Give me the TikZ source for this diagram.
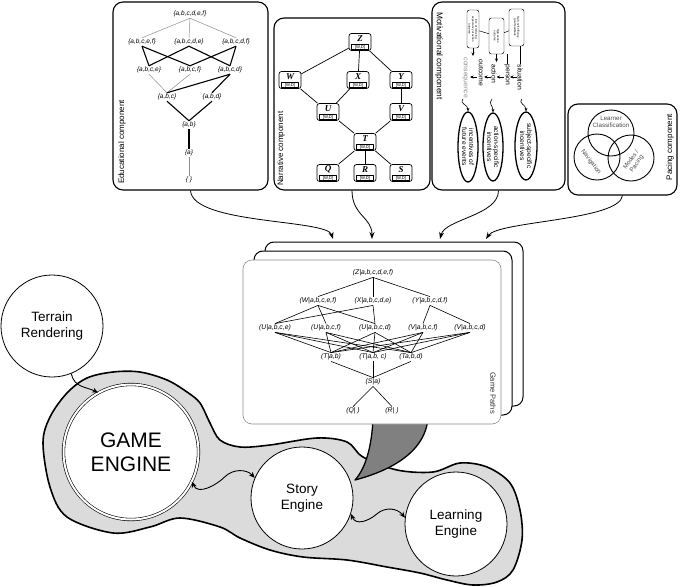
\documentclass[tikz,border=0pt]{standalone}
\usepackage{fontspec}
\setmainfont{Liberation Sans}
\newfontfamily\tnr{Liberation Serif}
\usetikzlibrary{arrows.meta,shapes.geometric}
\definecolor{blobgray}{gray}{0.86}
\definecolor{callgray}{gray}{0.5}
\newcommand\nnode[4]{%
 \node[nbox] (#1) at (#2,#3) {};
 \node[nlet] (#1l) at ([yshift=-5.4pt]#1.north) {#4};
 \node[nwd] (#1w) at ([yshift=3.9pt]#1.south) {[W,D]};}
\begin{document}
\begin{tikzpicture}[x=1pt,y=-1pt,line join=round,
 comp/.style={draw,line width=1.1pt,rounded corners=10pt,inner sep=0pt},
 clab/.style={font=\fontsize{8}{9}\selectfont,inner sep=0pt},
 el/.style={font=\fontsize{6.5}{7}\selectfont\itshape,inner sep=1pt},
 gline/.style={draw=black!45,line width=0.5pt},
 bline/.style={line width=1.1pt},
 nbox/.style={draw,rounded corners=2.5pt,minimum width=22pt,minimum height=17pt,inner sep=0pt,line width=0.7pt,fill=white},
 nlet/.style={font=\tnr\bfseries\itshape\fontsize{9}{9}\selectfont,inner sep=0pt},
 nwd/.style={draw,line width=0.35pt,font=\fontsize{4.2}{4.5}\selectfont,inner sep=0.4pt,minimum width=17pt},
 nline/.style={line width=0.7pt},
 mbox/.style={draw,rounded corners=2.5pt,rotate=-90,align=center,font=\fontsize{2.8}{3.3}\selectfont,inner sep=0.8pt,line width=0.45pt},
 wf/.style={rotate=-90,anchor=west,font=\fontsize{6.8}{7}\selectfont,inner sep=0.5pt},
 mell/.style={draw,ellipse,line width=1.3pt,inner sep=0pt},
 mtext/.style={rotate=-90,align=center,font=\fontsize{6.6}{7}\selectfont,inner sep=0pt},
 marr/.style={line width=0.6pt,-{Stealth[length=3.5pt,width=3pt]}},
 pc/.style={draw,circle,minimum size=46pt,inner sep=0pt,line width=0.9pt},
 ptext/.style={font=\fontsize{6.2}{7}\selectfont,text=black!70,align=center,inner sep=0pt},
 carr/.style={line width=0.8pt,-{Stealth[length=7pt,width=5pt]}},
 card/.style={draw,rounded corners=9pt,fill=white,minimum width=258pt,minimum height=164pt,line width=1pt},
 gp/.style={font=\fontsize{6.8}{7}\selectfont\itshape,inner sep=1pt},
 gpl/.style={line width=0.6pt},
 eng/.style={circle,draw,fill=white,line width=0.8pt,minimum size=102pt,align=center,font=\fontsize{13.5}{16}\selectfont},
 sq/.style={line width=0.9pt,-{Stealth[length=6pt,width=5pt]}},
 dsq/.style={line width=0.9pt,{Stealth[length=6pt,width=5pt]}-{Stealth[length=6pt,width=5pt]}}
]
\useasboundingbox (0,0) rectangle (681,587);

% ---------------- bottom: blob, callout, engines
\draw[line width=1.6pt,fill=blobgray] plot[smooth cycle,tension=0.55] coordinates {
 (113,372) (140,372) (167,380) (187,392) (200,403) (210,423) (220,440) (240,447)
 (270,445) (317,438) (347,442) (363,457) (397,470) (433,472) (460,463) (487,467)
 (510,483) (520,510) (522,540) (513,570) (497,582) (473,585) (447,580) (420,573)
 (387,567) (347,560) (303,557) (270,550) (240,538) (220,527) (180,518) (150,527)
 (113,533) (67,517) (50,487) (43,443) (50,417) (67,393) (87,378)};
\draw[line width=1.3pt,fill=callgray] (373,418) .. controls (372,445) and (366,468) .. (355,480)
 .. controls (385,472) and (425,455) .. (428,418) -- cycle;

\node[eng] (terrain) at (52,326) {Terrain\\Rendering};
\node[circle,draw,double,double distance=2pt,line width=0.6pt,fill=white,minimum size=135pt,
 align=center,font=\fontsize{21}{24}\selectfont] (game) at (131,452) {GAME\\ENGINE};
\node[eng] (story) at (302,498) {Story\\Engine};
\node[eng,ellipse,minimum width=102pt,minimum height=104pt] (learn) at (456,524) {Learning\\Engine};

\draw[sq] (terrain.-68) .. controls +(3,14) and +(-12,-6) .. (game.119);
\draw[dsq] (game.-26) .. controls +(6,14) and +(-8,8) .. ++(33,-5)
 .. controls +(8,-8) and +(-8,-9) .. (story.157);
\draw[dsq] (story.-18) .. controls +(5,12) and +(-8,7) .. ++(26,0)
 .. controls +(8,-7) and +(-8,-10) .. (learn.173);

% ---------------- card stack
\node[card] (card3) at (394,324) {};
\node[card] (card2) at (383,333) {};
\node[card,draw=black!45,line width=0.6pt] (card1) at (372,342) {};
\node[font=\fontsize{7.5}{8}\selectfont,text=black!80,rotate=-90,inner sep=0pt] (gplab) at (493,393) {Game Paths};

\node[gp] (gZ) at (373,273) {(Z|a,b,c,d,e,f)};
\node[gp] (gW) at (318,301) {(W|a,b,c,e,f)};
\node[gp] (gX) at (373,301) {(X|a,b,c,d,e)};
\node[gp] (gY) at (430,301) {(Y|a,b,c,d,f)};
\node[gp] (gU1) at (275,328) {(U|a,b,c,e)};
\node[gp] (gU2) at (326,328) {(U|a,b,c,f)};
\node[gp] (gU3) at (375,328) {(U|a,b,c,d)};
\node[gp] (gV1) at (423,328) {(V|a,b,c,f)};
\node[gp] (gV2) at (470,328) {(V|a,b,c,d)};
\node[gp] (gT1) at (331,357) {(T|a,b)};
\node[gp] (gT2) at (373,357) {(T|a,b, c)};
\node[gp] (gT3) at (411,357) {(Ta,b,d)};
\node[gp] (gS) at (373,382) {(S|a)};
\node[gp] (gQ) at (353,411) {(Q| )};
\node[gp] (gR) at (392,411) {(R| )};
\foreach \t in {gW,gX,gY} \draw[gpl] (gZ.south) -- (\t.north);
\draw[gpl] (gW.south) -- (gU1.north);
\draw[gpl] (gW.south) -- (gU2.north);
\draw[gpl] (gW.south) -- (gU3.north);
\draw[gpl] (gX.south) -- (gU1.north);
\draw[gpl] (gX.south) -- (gU3.north);
\draw[gpl] (gY.south) -- (gV1.north);
\draw[gpl] (gY.south) -- (gV2.north);
\foreach \u in {gU1,gU2,gU3,gV1,gV2}
 \foreach \t in {gT1,gT2,gT3} \draw[gpl] (\u.south) -- (\t.north);
\foreach \t in {gT1,gT2,gT3} \draw[gpl] (\t.south) -- (gS.north);
\draw[gpl] (gS.south) -- (gQ.north);
\draw[gpl] (gS.south) -- (gR.north);

% ---------------- component boxes
\node[comp,minimum width=155pt,minimum height=188pt] (edu) at (190.5,96) {};
\node[comp,minimum width=156pt,minimum height=172pt] (narr) at (352,104) {};
\node[comp,minimum width=133pt,minimum height=188pt] (mot) at (498.5,96) {};
\node[comp,minimum width=109pt,minimum height=91pt] (pace) at (622.5,149.5) {};

\coordinate (c1) at (333,239);
\coordinate (c2) at (372,239);
\coordinate (c3) at (440,239);
\coordinate (c4) at (486,239);
\draw[carr] (edu.south) .. controls +(2,34) and +(-6,-20) .. (c1);
\draw[carr] (narr.south) .. controls +(0,25) and +(0,-22) .. (c2);
\draw[carr] (mot.south) .. controls +(0,25) and +(5,-20) .. (c3);
\draw[carr] (pace.south) .. controls +(-3,25) and +(12,-18) .. (c4);

% ---------------- educational component
\node[clab,rotate=90,anchor=west] (elab) at (122,184) {Educational component};
\node[el] (e0) at (190,14) {\{a,b,c,d,e,f\}};
\node[el] (e1) at (142,42) {\{a,b,c,e,f\}};
\node[el] (e2) at (189,42) {\{a,b,c,d,e\}};
\node[el] (e3) at (236,42) {\{a,b,c,d,f\}};
\node[el] (e4) at (149,70) {\{a,b,c,e\}};
\node[el] (e5) at (190,70) {\{a,b,c,f\}};
\node[el] (e6) at (230,70) {\{a,b,c,d\}};
\node[el] (e7) at (167,97) {\{a,b,c\}};
\node[el] (e8) at (212,97) {\{a,b,d\}};
\node[el] (e9) at (189,125) {\{a,b\}};
\node[el] (e10) at (189,153) {\{a\}};
\node[el] (e11) at (189,180) {\{ \}};
\foreach \t in {e1,e2,e3} \draw[gline] (e0.south) -- (\t.north);
\draw[bline] (e1.south) -- (e4.north);
\draw[bline] (e1.south) -- (e5.north);
\draw[bline] (e2.south) -- (e4.north);
\draw[bline] (e2.south) -- (e6.north);
\draw[bline] (e3.south) -- (e5.north);
\draw[bline] (e3.south) -- (e6.north);
\draw[gline] (e4.south) -- (e7.north);
\draw[gline] (e5.south) -- (e7.north);
\draw[bline] (e6.south) -- (e7.north);
\draw[bline] (e6.south) -- (e8.north);
\draw[bline] (e7.south) -- (e9.north);
\draw[bline] (e8.south) -- (e9.north);
\draw[bline] (e9.south) -- (e10.north);
\draw[gline] (e10.south) -- (e11.north);

% ---------------- narrative component
\node[clab,rotate=90,anchor=west] (nlab) at (281,186) {Narrative component};
\nnode{nZ}{360}{42}{Z}
\nnode{nW}{290}{80}{W}
\nnode{nX}{358}{80}{X}
\nnode{nY}{401}{80}{Y}
\nnode{nU}{328}{112}{U}
\nnode{nV}{401}{112}{V}
\nnode{nT}{365}{142}{T}
\nnode{nQ}{328}{173}{Q}
\nnode{nR}{365}{173}{R}
\nnode{nS}{401}{173}{S}
\foreach \a/\b in {nZ/nW,nZ/nX,nZ/nY,nW/nU,nX/nU,nY/nV,nU/nT,nV/nT,nT/nQ,nT/nR,nT/nS}
 \draw[nline] (\a) -- (\b);

% ---------------- motivational component
\node[clab,rotate=-90,anchor=west,font=\fontsize{8.3}{9}\selectfont] (mlab) at (439,12) {Motivational component};
\node[mbox,minimum width=38pt,minimum height=12pt] (mb1) at (473,29) {low: at reducing\\expectancy of action\\outcome};
\node[mbox,minimum width=36pt,minimum height=15pt] (mb2) at (496.5,36) {high action\\outcome};
\node[mbox,minimum width=37pt,minimum height=15pt] (mb3) at (516.5,27.5) {high: self-efficacy,\\goal feedback};
\draw[line width=0.5pt] (mb1) -- (mb2);
\draw[line width=0.5pt] (mb2) -- (mb3);
\node[wf,text=black!45] (w1) at (465,57) {consequence};
\node[wf] (w2) at (481,59) {outcome};
\node[wf] (w3) at (494,64) {action};
\node[wf] (w4) at (507,64) {person};
\node[wf] (w5) at (520,64) {situation};
\coordinate (ma1) at (473,56);
\draw[marr] (mb1.east) -- (ma1);
\coordinate (ma2) at (496.5,62);
\draw[marr] (mb2.east) -- (ma2);
\draw[line width=0.6pt] (mb3.east -| w5.west) -- (w5.west);
\draw[line width=0.6pt] (mb2.north east -| w4.west) -- (w4.west);
\foreach \i/\xa in {1/477,2/491,3/503.5,4/517}{
 \coordinate (ha\i) at (\xa,77);
 \coordinate (hb\i) at (\xa-7,77);
 \draw[marr] (ha\i) -- (hb\i);}
\node[mell,minimum width=20pt,minimum height=70pt] (el1) at (468,147) {};
\node[mell,minimum width=20pt,minimum height=68pt] (el2) at (493,147) {};
\node[mell,minimum width=22pt,minimum height=68pt] (el3) at (526,146) {};
\node[mtext] (et1) at (el1) {incentives of\\future events};
\node[mtext] (et2) at (el2) {action-specific\\incentives};
\node[mtext] (et3) at (el3) {subject-specific\\incentives};
\coordinate (s1) at (463,99);
\coordinate (s2) at (492,99);
\coordinate (s3) at (522,99);
\draw[marr] (s1) .. controls +(-4,5) and +(0,-7) .. (el1.north);
\draw[marr] (s2) .. controls +(-4,5) and +(0,-7) .. (el2.north);
\draw[marr] (s3) .. controls +(-4,5) and +(0,-7) .. (el3.north);

% ---------------- pacing component
\node[clab,rotate=90] (plab) at (670,147) {Pacing component};
\node[pc] (lc) at (611,133) {};
\node[pc] (nav) at (597,157) {};
\node[pc] (mp) at (631,158) {};
\node[ptext] (lct) at (611,122) {Learner\\Classification};
\node[ptext,rotate=-53] (navt) at (591,162) {Navigation};
\node[ptext,rotate=55] (mpt) at (634,162) {Modes /\\Pacing};
\end{tikzpicture}
\end{document}
